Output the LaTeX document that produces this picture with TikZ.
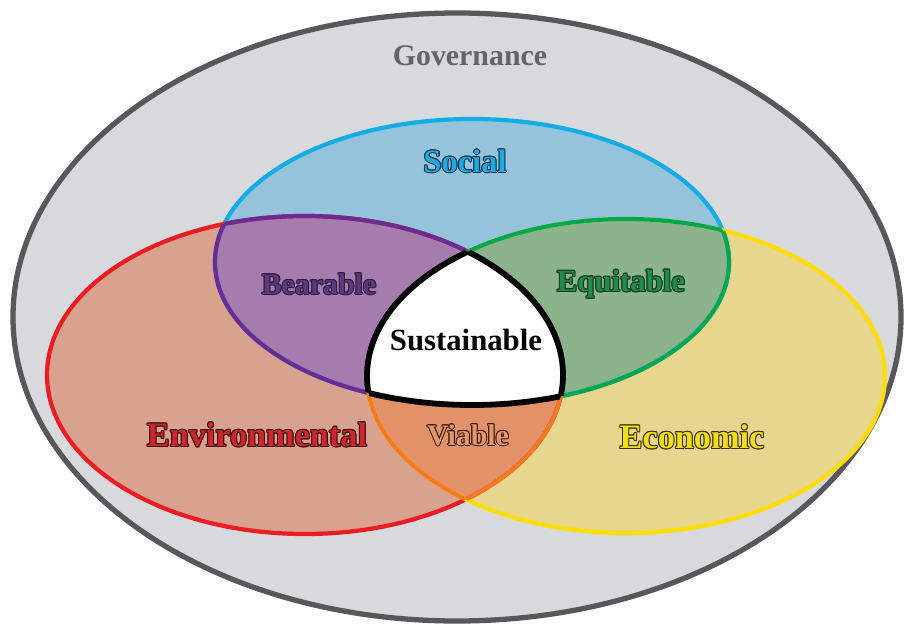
\documentclass[tikz,border=0pt]{standalone}
\usepackage{fontspec}
\setmainfont{Liberation Serif}
\usetikzlibrary{calc}
\definecolor{outerfill}{RGB}{216,217,220}
\definecolor{outerline}{RGB}{88,88,90}
\definecolor{socfill}{RGB}{149,195,219}
\definecolor{socline}{RGB}{20,172,230}
\definecolor{envfill}{RGB}{216,162,142}
\definecolor{envline}{RGB}{236,28,36}
\definecolor{ecofill}{RGB}{232,214,142}
\definecolor{ecoline}{RGB}{255,221,0}
\definecolor{bearfill}{RGB}{166,123,173}
\definecolor{bearline}{RGB}{106,44,145}
\definecolor{equifill}{RGB}{139,180,140}
\definecolor{equiline}{RGB}{0,166,81}
\definecolor{viafill}{RGB}{226,145,105}
\definecolor{vialine}{RGB}{244,121,32}
\definecolor{govtext}{RGB}{100,100,102}
\definecolor{soctext}{RGB}{30,170,225}
\definecolor{socdark}{RGB}{25,50,75}
\definecolor{beartext}{RGB}{92,58,128}
\definecolor{beardark}{RGB}{45,25,60}
\definecolor{equitext}{RGB}{30,140,75}
\definecolor{equidark}{RGB}{25,55,35}
\definecolor{envtext}{RGB}{205,38,44}
\definecolor{envdark}{RGB}{60,15,15}
\definecolor{viatext}{RGB}{232,150,110}
\definecolor{viadark}{RGB}{50,25,15}
\definecolor{ecotext}{RGB}{240,222,30}
\definecolor{ecodark}{RGB}{60,50,0}
\newcommand\pSoc{(472,262) ellipse [x radius=257, y radius=143]}
\newcommand\pEnv{(305,375) ellipse [x radius=258, y radius=159]}
\newcommand\pEco{(626,376) ellipse [x radius=259, y radius=157]}
\newcommand\pOut{(457,317) ellipse [x radius=444, y radius=304]}
\newcommand\outlbl[6]{%
  \foreach \a in {0,45,...,315}
    \node[lbl,text=#4,font=\bfseries\fontsize{#5}{#5}\selectfont] at ($(#2)+(\a:0.6pt)$) {#6};
  \node[lbl,text=#3,font=\bfseries\fontsize{#5}{#5}\selectfont] (#1) at (#2) {#6};}
\begin{document}
\begin{tikzpicture}[x=0.02cm,y=-0.02cm,
  lbl/.style={inner sep=0pt},
  bw/.style={line width=2.4pt},
  sw/.style={line width=3.3pt,black}]
\useasboundingbox (0,0) rectangle (909,628);
\fill[white] (0,0) rectangle (909,628);
% outer governance ellipse
\fill[outerfill] \pOut;
\draw[outerline,line width=3pt] \pOut;
% base fills
\fill[envfill] \pEnv;
\fill[ecofill] \pEco;
\fill[socfill] \pSoc;
% pairwise intersections
\begin{scope}\clip \pSoc; \fill[bearfill] \pEnv; \end{scope}
\begin{scope}\clip \pSoc; \fill[equifill] \pEco; \end{scope}
\begin{scope}\clip \pEnv; \fill[viafill] \pEco; \end{scope}
\begin{scope}\clip \pSoc; \clip \pEnv; \fill[white] \pEco; \end{scope}
% borders
\draw[bw,socline] \pSoc;
\draw[bw,envline] \pEnv;
\draw[bw,ecoline] \pEco;
\begin{scope}\clip \pEnv; \draw[bw,bearline] \pSoc; \end{scope}
\begin{scope}\clip \pEco; \draw[bw,equiline] \pSoc; \end{scope}
\begin{scope}\clip \pSoc; \draw[bw,bearline] \pEnv; \end{scope}
\begin{scope}\clip \pEco; \draw[bw,vialine] \pEnv; \end{scope}
\begin{scope}\clip \pSoc; \draw[bw,equiline] \pEco; \end{scope}
\begin{scope}\clip \pEnv; \draw[bw,vialine] \pEco; \end{scope}
\begin{scope}\clip \pEnv; \clip \pEco; \draw[sw] \pSoc; \end{scope}
\begin{scope}\clip \pSoc; \clip \pEco; \draw[sw] \pEnv; \end{scope}
\begin{scope}\clip \pSoc; \clip \pEnv; \draw[sw] \pEco; \end{scope}
% labels
\node[lbl,text=govtext,font=\bfseries\fontsize{17}{17}\selectfont] (gov) at (470,56) {Governance};
\node[lbl,text=black,font=\bfseries\fontsize{17.5}{17.5}\selectfont] (sus) at (466,340) {Sustainable};
\outlbl{soc}{465,161}{soctext}{socdark}{18.5}{Social}
\outlbl{bear}{319,284}{beartext}{beardark}{17}{Bearable}
\outlbl{equi}{621,284}{equitext}{equidark}{17.5}{Equitable}
\outlbl{env}{257,435}{envtext}{envdark}{19.5}{Environmental}
\outlbl{via}{468,435}{viatext}{viadark}{17}{Viable}
\outlbl{eco}{692,437}{ecotext}{ecodark}{19.5}{Economic}
\end{tikzpicture}
\end{document}
